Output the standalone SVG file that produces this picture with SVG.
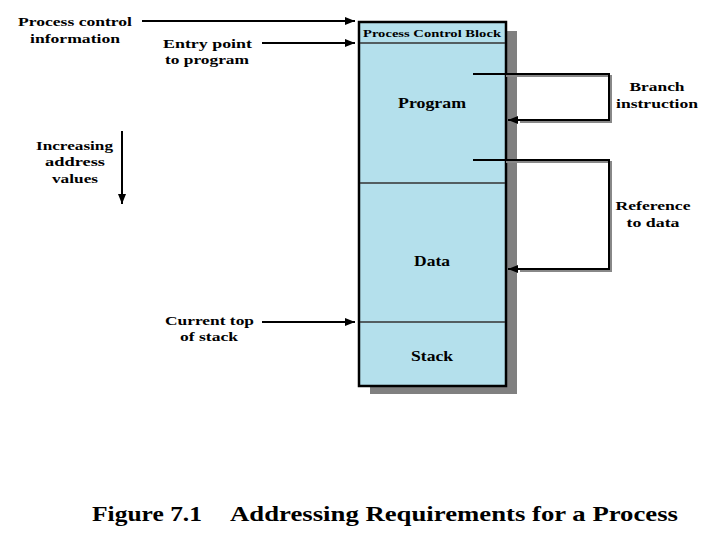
<svg xmlns="http://www.w3.org/2000/svg" width="720" height="540" viewBox="0 0 720 540">
<style>
.t{font-family:"Liberation Serif","DejaVu Serif",serif;font-weight:bold;font-size:13px;fill:#000}
.s{font-size:10.5px}
.m{font-size:14px}
.cap{font-size:22px}
.c{text-anchor:middle}
.ln{stroke:#000;stroke-width:2;fill:none}
.sh{stroke:#888;stroke-width:2;fill:none}
.div{stroke:#333;stroke-width:1.6}
</style>
<defs>
<marker id="ah" markerWidth="10" markerHeight="8" refX="10" refY="4" orient="auto" markerUnits="userSpaceOnUse">
<path d="M0,0 L10,4 L0,8 Z" fill="#000"/>
</marker>
</defs>
<rect width="720" height="540" fill="#fff"/>
<g id="memory">
<rect x="370" y="31" width="147" height="363" fill="#808080"/>
<rect x="359" y="22" width="147" height="364" fill="#b4e0ec" stroke="#000" stroke-width="2.5"/>
<line class="div" x1="360" y1="43" x2="505" y2="43"/>
<line class="div" x1="360" y1="183" x2="505" y2="183"/>
<line class="div" x1="360" y1="322" x2="505" y2="322"/>
</g>
<g id="pcb"><text class="t s c" x="432" y="37" textLength="138" lengthAdjust="spacingAndGlyphs">Process Control Block</text></g>
<g id="program"><text class="t m c" x="432" y="108" textLength="68" lengthAdjust="spacingAndGlyphs">Program</text></g>
<g id="data"><text class="t m c" x="432" y="266" textLength="36" lengthAdjust="spacingAndGlyphs">Data</text></g>
<g id="stack"><text class="t m c" x="432" y="361" textLength="42" lengthAdjust="spacingAndGlyphs">Stack</text></g>
<g id="labels">
<text class="t" x="18" y="26" textLength="114" lengthAdjust="spacingAndGlyphs">Process control</text>
<text class="t" x="30" y="43" textLength="90" lengthAdjust="spacingAndGlyphs">information</text>
<text class="t" x="163" y="48" textLength="89" lengthAdjust="spacingAndGlyphs">Entry point</text>
<text class="t" x="165" y="64" textLength="84" lengthAdjust="spacingAndGlyphs">to program</text>
<text class="t" x="36" y="150" textLength="77" lengthAdjust="spacingAndGlyphs">Increasing</text>
<text class="t" x="45" y="166" textLength="60" lengthAdjust="spacingAndGlyphs">address</text>
<text class="t" x="52" y="183" textLength="46" lengthAdjust="spacingAndGlyphs">values</text>
<text class="t" x="165" y="325" textLength="89" lengthAdjust="spacingAndGlyphs">Current top</text>
<text class="t" x="180" y="341" textLength="58" lengthAdjust="spacingAndGlyphs">of stack</text>
<text class="t c" x="657" y="91" textLength="55" lengthAdjust="spacingAndGlyphs">Branch</text>
<text class="t c" x="657" y="108" textLength="82" lengthAdjust="spacingAndGlyphs">instruction</text>
<text class="t c" x="653" y="210" textLength="75" lengthAdjust="spacingAndGlyphs">Reference</text>
<text class="t c" x="653" y="227" textLength="53" lengthAdjust="spacingAndGlyphs">to data</text>
</g>
<g id="connectors">
<line class="ln" x1="142" y1="21" x2="355" y2="21" marker-end="url(#ah)"/>
<line class="ln" x1="262" y1="43" x2="355" y2="43" marker-end="url(#ah)"/>
<line class="ln" x1="262" y1="322" x2="355" y2="322" marker-end="url(#ah)"/>
<line class="ln" x1="122" y1="131" x2="122" y2="204" marker-end="url(#ah)"/>
<polyline class="sh" points="506,76 611,76 611,122 520,122"/>
<polyline class="ln" points="473,74 609,74 609,120 508,120" marker-end="url(#ah)"/>
<polyline class="sh" points="506,162 611,162 611,271 520,271"/>
<polyline class="ln" points="473,160 609,160 609,269 508,269" marker-end="url(#ah)"/>
</g>
<g id="caption">
<text class="t cap" x="92" y="521" textLength="110" lengthAdjust="spacingAndGlyphs">Figure 7.1</text>
<text class="t cap" x="230" y="521" textLength="448" lengthAdjust="spacingAndGlyphs">Addressing Requirements for a Process</text>
</g>
</svg>
